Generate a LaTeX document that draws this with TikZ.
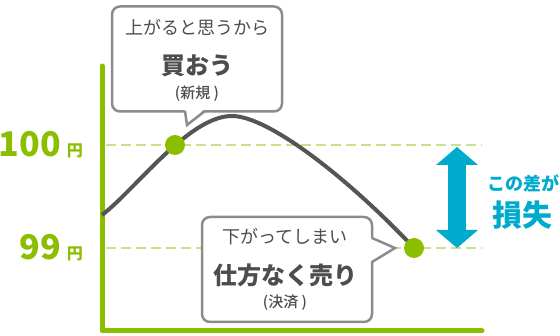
\documentclass[tikz,border=0pt]{standalone}
\usepackage{fontspec}
\setmainfont{Noto Sans CJK JP}
\newfontfamily\jpmedium{Noto Sans CJK JP Medium}
\newfontfamily\jpblack{Noto Sans CJK JP Black}
\usetikzlibrary{arrows.meta}
\definecolor{axisgreen}{RGB}{140,190,0}
\definecolor{guidegreen}{RGB}{197,226,140}
\definecolor{trendgray}{RGB}{85,85,85}
\definecolor{bubblegray}{RGB}{140,140,140}
\definecolor{notegray}{RGB}{77,77,77}
\definecolor{lossblue}{RGB}{0,170,204}

\tikzset{
    axis/.style={draw=axisgreen, line width=5pt, line cap=round, line join=round},
    guide/.style={draw=guidegreen, line width=2.5pt, dash pattern=on 10pt off 5pt},
    trend/.style={draw=trendgray, line width=4pt},
    marker/.style={circle, fill=axisgreen, minimum size=20pt, inner sep=0pt},
    bubble/.style={draw=bubblegray, fill=white, rounded corners=8pt, line width=2.5pt,
        minimum width=170pt, minimum height=105pt},
    bubbleedge/.style={draw=bubblegray, line width=2.5pt, line join=miter},
    price/.style={text=axisgreen, anchor=base east, inner sep=0pt},
    lead/.style={text=notegray, font=\fontsize{18}{18}\selectfont},
    action/.style={text=notegray, font=\fontsize{24}{24}\selectfont\bfseries},
    kind/.style={text=notegray, font=\fontsize{15}{15}\selectfont\jpmedium},
    loss/.style={draw=lossblue, line width=18pt,
        {Triangle[width=41pt,length=18pt]}-{Triangle[width=41pt,length=18pt]}},
    losstext/.style={text=lossblue}
}

\begin{document}
\begin{tikzpicture}[x=1pt, y=-1pt]
    \useasboundingbox (0,0) rectangle (560,336);
    \coordinate (ytop) at (102,66);
    \coordinate (origin) at (102,331);
    \coordinate (xend) at (482,331);
    \coordinate (high-l) at (106,145);
    \coordinate (high-r) at (482,145);
    \coordinate (low-l) at (106,248);
    \coordinate (low-r) at (482,248);
    \coordinate (start) at (102,215);
    \coordinate (peak) at (231,116);
    \coordinate (buy-pt) at (175,145);
    \coordinate (sell-pt) at (414,248);
    \draw[guide] (high-l) -- (high-r);
    \draw[guide] (low-l) -- (low-r);
    \draw[axis] (ytop) -- (origin) -- (xend);
    \draw[trend] (start) .. controls (135,190) and (188,117) .. (peak)
        .. controls (268,115) and (350,180) .. (sell-pt);
    \node[marker] (buy) at (buy-pt) {};
    \node[marker] (sell) at (sell-pt) {};
    \node[price] (high-label) at (83,157)
        {{\fontsize{34}{34}\selectfont\jpblack 100}\hspace{6pt}{\fontsize{16}{16}\selectfont\jpblack 円}};
    \node[price] (low-label) at (83,260)
        {{\fontsize{34}{34}\selectfont\jpblack 99}\hspace{6pt}{\fontsize{16}{16}\selectfont\jpblack 円}};
    \node[bubble] (buy-note) at (197,59) {};
    \coordinate (buy-tip) at (187,125);
    \fill[white] (184.5,108) -- (buy-tip) -- (205.5,108) -- cycle;
    \draw[bubbleedge] (185,111) -- (buy-tip) -- (205,111);
    \node[lead] (buy-lead) at (197,27) {上がると思うから};
    \node[action] (buy-action) at (197,66) {買おう};
    \node[kind] (buy-kind) at (197,94) {(新規 )};
    \node[bubble] (sell-note) at (287,269.5) {};
    \coordinate (sell-tip) at (395,248);
    \fill[white] (369,237.5) -- (sell-tip) -- (369,262.5) -- cycle;
    \draw[bubbleedge] (372,238) -- (sell-tip) -- (372,262);
    \node[lead] (sell-lead) at (285,237) {下がってしまい};
    \node[action] (sell-action) at (285,275) {仕方なく売り};
    \node[kind] (sell-kind) at (285,303) {(決済 )};
    \coordinate (loss-top) at (457,147);
    \coordinate (loss-bot) at (457,248);
    \draw[loss] (loss-top) -- (loss-bot);
    \node[losstext, font=\fontsize{18}{18}\selectfont\bfseries] (loss-lead) at (523,183) {この差が};
    \node[losstext, font=\fontsize{30}{30}\selectfont\jpblack] (loss-word) at (522,215) {損失};
\end{tikzpicture}
\end{document}
